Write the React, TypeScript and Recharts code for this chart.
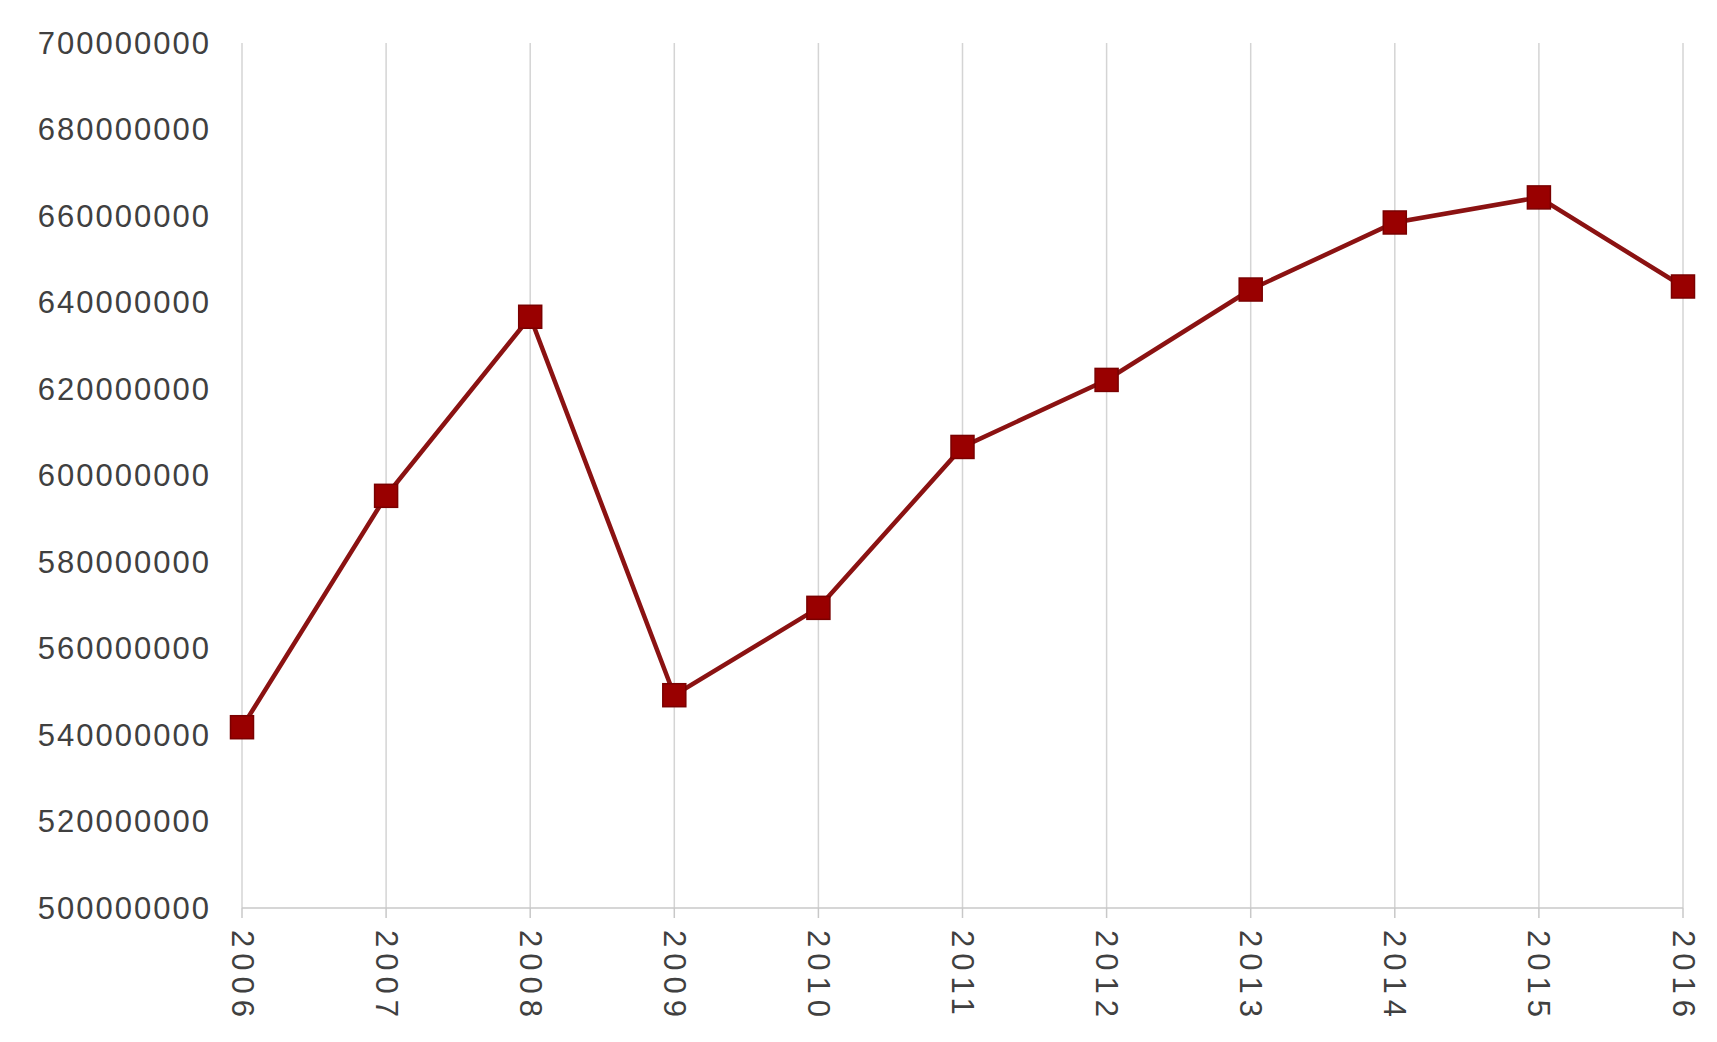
import React from "react";
import { LineChart, Line, XAxis, YAxis, CartesianGrid } from "recharts";

const years = ["2006", "2007", "2008", "2009", "2010", "2011", "2012", "2013", "2014", "2015", "2016"];
const values = [541800000, 595300000, 636700000, 549200000, 569400000, 606600000, 622100000, 643000000, 658500000, 664300000, 643700000];
const yTicks = [500000000, 520000000, 540000000, 560000000, 580000000, 600000000, 620000000, 640000000, 660000000, 680000000, 700000000];

const data = years.map((y, i) => ({ year: y, value: values[i] }));

const FONT = "'Liberation Sans', Arial, sans-serif";

const XTick = (props: any) => {
  const { x, y, payload } = props;
  return (
    <text
      x={0}
      y={0}
      transform={`translate(${x},${y + 10}) rotate(90)`}
      textAnchor="start"
      dominantBaseline="central"
      fontFamily={FONT}
      fontSize={31}
      letterSpacing={6}
      fill="#404040"
    >
      {payload.value}
    </text>
  );
};

const YTick = (props: any) => {
  const { x, y, payload } = props;
  return (
    <text
      x={x}
      y={y}
      textAnchor="end"
      dominantBaseline="central"
      fontFamily={FONT}
      fontSize={31}
      letterSpacing={2}
      fill="#404040"
    >
      {String(payload.value)}
    </text>
  );
};

const SquareDot = (props: any) => {
  const { cx, cy, index } = props;
  if (cx == null || cy == null) return null;
  const s = 23;
  return (
    <rect
      key={`d-${index}`}
      x={cx - s / 2}
      y={cy - s / 2}
      width={s}
      height={s}
      fill="#990000"
      stroke="#7a0000"
      strokeWidth={1.5}
    />
  );
};

export default function App() {
  return (
    <div style={{ position: "absolute", left: 0, top: 0, width: 1717, height: 1042, background: "#fff" }}>
      <LineChart width={1717} height={1042} data={data} margin={{ top: 43, right: 34, bottom: 0, left: 0 }}>
        <CartesianGrid horizontal={false} vertical={true} stroke="#d4d4d4" strokeWidth={1.5} />
        <XAxis
          dataKey="year"
          height={134}
          tick={<XTick />}
          tickLine={{ stroke: "#c8c8c8", strokeWidth: 1.5 }}
          tickSize={10}
          axisLine={{ stroke: "#c8c8c8", strokeWidth: 1.5 }}
          interval={0}
        />
        <YAxis
          width={242}
          domain={[500000000, 700000000]}
          ticks={yTicks}
          interval={0}
          axisLine={false}
          tickLine={false}
          tickSize={0}
          tickMargin={31}
          tick={<YTick />}
        />
        <Line
          dataKey="value"
          stroke="#8b1212"
          strokeWidth={4.5}
          dot={<SquareDot />}
          activeDot={false}
          isAnimationActive={false}
        />
      </LineChart>
    </div>
  );
}
